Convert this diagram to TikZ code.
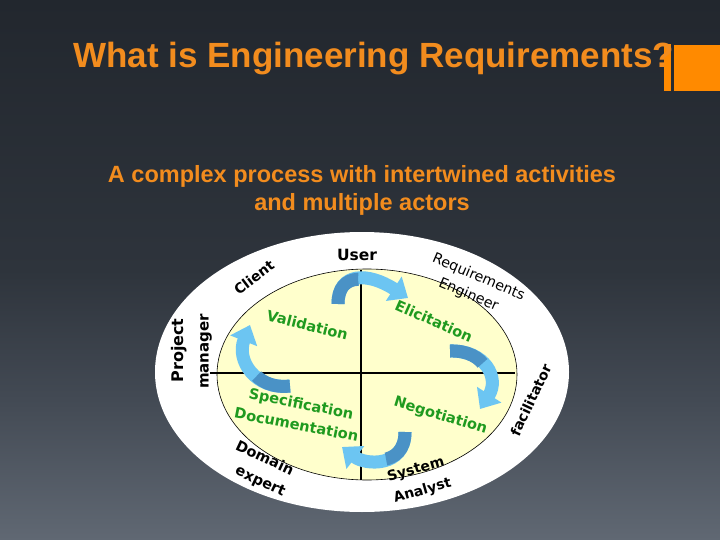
\documentclass[tikz,border=0pt]{standalone}
\usepackage{fontspec}
\setmainfont{Liberation Sans}
\newfontfamily\labfont{DejaVu Sans}
\usetikzlibrary{arrows.meta}
\definecolor{bgtop}{HTML}{22272E}
\definecolor{bgupper}{HTML}{2E343C}
\definecolor{bgmid}{HTML}{434A54}
\definecolor{bgbot}{HTML}{606873}
\definecolor{titleorange}{HTML}{F28C1E}
\definecolor{barorange}{HTML}{FF8A00}
\definecolor{innerfill}{HTML}{FFFFCC}
\definecolor{actgreen}{HTML}{1F9A1F}
\definecolor{arrlightc}{HTML}{6CC5F2}
\definecolor{arrdarkc}{HTML}{4A92C6}
\pgfdeclareverticalshading{slidebg}{100bp}{color(0bp)=(bgbot); color(25bp)=(bgbot); color(38bp)=(bgmid); color(50bp)=(bgupper); color(75bp)=(bgtop); color(100bp)=(bgtop)}
\tikzset{
  lab/.style={inner sep=0pt, font=\labfont\bfseries\fontsize{14}{17}\selectfont, text=black},
  labreg/.style={inner sep=0pt, font=\labfont\fontsize{14.2}{17}\selectfont, text=black},
  act/.style={inner sep=0pt, font=\labfont\bfseries\fontsize{14.6}{17}\selectfont, text=actgreen},
  arrlight/.style={line width=13pt, draw=arrlightc, -{Triangle[length=17pt,width=28pt]}},
  arrdark/.style={line width=13pt, draw=arrdarkc, dash pattern=on 36pt off 400pt},
  axisline/.style={line width=2.5pt, draw=black}
}
\begin{document}
\begin{tikzpicture}[x=1pt,y=-1pt]
\useasboundingbox (0,0) rectangle (720,540);
\shade[shading=slidebg] (0,0) rectangle (720,540);
% orange bars
\fill[barorange] (664,44) rectangle (671,91);
\fill[barorange] (674,45) rectangle (720,91);
% title
\node[anchor=base west, inner sep=0pt, text=titleorange, font=\fontsize{35}{42}\selectfont\bfseries] (title) at (73,68) {What is Engineering Requirements?};
\node[anchor=base, inner sep=0pt, text=titleorange, font=\fontsize{23.5}{28}\selectfont\bfseries] (sub1) at (362,183) {A complex process with intertwined activities};
\node[anchor=base, inner sep=0pt, text=titleorange, font=\fontsize{23.5}{28}\selectfont\bfseries] (sub2) at (362,211) {and multiple actors};
% ellipses
\fill[white] (362,372) ellipse [x radius=207pt, y radius=140pt];
\filldraw[fill=innerfill, draw=black, line width=0.6pt] (367,374.5) ellipse [x radius=150pt, y radius=105.5pt];
% cross
\coordinate (hl) at (210,373);
\coordinate (hr) at (515,373);
\coordinate (vt) at (361,270);
\coordinate (vb) at (361,480);
\draw[axisline] (hl) -- (hr);
\draw[axisline] (vt) -- (vb);
% cycle arrows
\coordinate (t1) at (338,304); \coordinate (h1) at (408,298);
\coordinate (t2) at (450,351); \coordinate (h2) at (480,409);
\coordinate (t3) at (405,432); \coordinate (h3) at (342,447);
\coordinate (t4) at (290,386); \coordinate (h4) at (250,325);
\draw[arrlight] (t1) .. controls (338,272) and (368,272) .. (h1);
\draw[arrdark] (t1) .. controls (338,272) and (368,272) .. (h1);
\draw[arrlight] (t2) .. controls (485,350) and (500,378) .. (h2);
\draw[arrdark] (t2) .. controls (485,350) and (500,378) .. (h2);
\draw[arrlight] (t3) .. controls (405,468) and (365,465) .. (h3);
\draw[arrdark] (t3) .. controls (405,468) and (365,465) .. (h3);
\draw[arrlight] (t4) .. controls (255,390) and (236,360) .. (h4);
\draw[arrdark] (t4) .. controls (255,390) and (236,360) .. (h4);
% activities
\node[act, rotate=-14] (val) at (307.5,325) {Validation};
\node[act, rotate=-24] (eli) at (434,321) {Elicitation};
\node[act, rotate=-11] (spec) at (301,405) {Specification};
\node[act, rotate=-11] (doc) at (296.5,424.5) {Documentation};
\node[act, rotate=-17] (neg) at (440.5,416) {Negotiation};
% actors
\node[lab, font=\labfont\bfseries\fontsize{15.5}{18}\selectfont] (user) at (357,255) {User};
\node[lab, rotate=37] (client) at (254,277.5) {Client};
\node[labreg, rotate=-23] (req) at (478.5,277.5) {Requirements};
\node[labreg, rotate=-23] (eng) at (468.5,295) {Engineer};
\node[lab, rotate=90, font=\labfont\bfseries\fontsize{16}{18}\selectfont] (proj) at (179,350.5) {Project};
\node[lab, rotate=90, font=\labfont\bfseries\fontsize{15}{18}\selectfont] (mgr) at (206,351.5) {manager};
\node[lab, rotate=65] (fac) at (531,400) {facilitator};
\node[lab, rotate=-25, font=\labfont\bfseries\fontsize{14.5}{18}\selectfont] (dom) at (265,457.5) {Domain};
\node[lab, rotate=-25, font=\labfont\bfseries\fontsize{14.5}{18}\selectfont] (exp) at (260,482) {expert};
\node[lab, rotate=16] (sys) at (416,470) {System};
\node[lab, rotate=16] (ana) at (422.5,491) {Analyst};
\end{tikzpicture}
\end{document}
